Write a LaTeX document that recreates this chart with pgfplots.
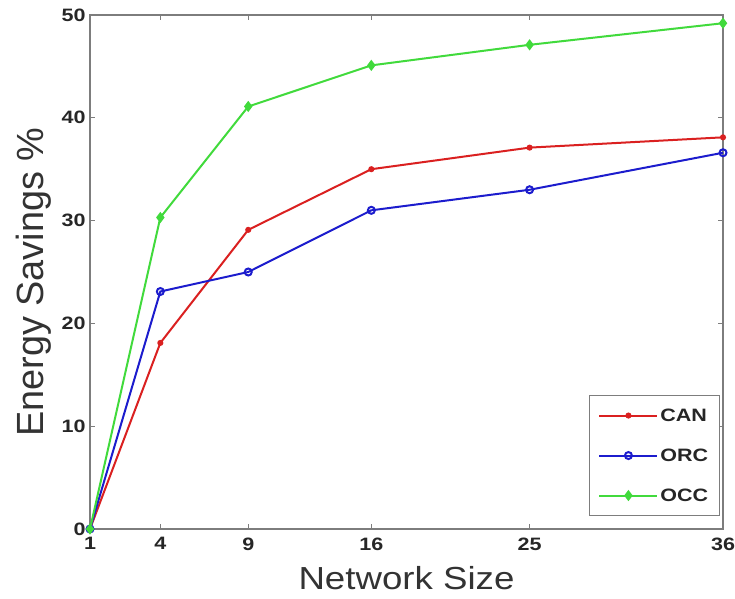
\documentclass[border=0pt]{standalone}
\usepackage{fontspec}
\setmainfont{Liberation Sans}
\newfontfamily\sfw[FakeStretch=1.15]{Liberation Sans}
\newfontfamily\sfwt[FakeStretch=1.2]{Liberation Sans}
\usepackage{pgfplots}
\pgfplotsset{compat=1.18}
\usetikzlibrary{calc}
\definecolor{mred}{RGB}{218,32,32}
\definecolor{mblue}{RGB}{28,28,205}
\definecolor{mgreen}{RGB}{65,218,60}
\definecolor{mgray}{RGB}{125,125,125}
\begin{document}
\begin{tikzpicture}
\useasboundingbox (-90bp,-70bp) rectangle (645bp,529bp);
\begin{axis}[
  at={(0,0)}, anchor=south west,
  scale only axis, width=633bp, height=514bp,
  xmin=0, xmax=36, ymin=0, ymax=50,
  xtick={0,4,9,16,25,36}, xticklabels={1,4,9,16,25,36},
  ytick={0,10,20,30,40,50},
  tick align=inside, major tick length=5bp,
  axis line style={mgray, line width=2bp},
  every tick/.style={mgray, line width=1bp},
  /pgf/number format/assume math mode=true,
  tick label style={font=\sfwt\bfseries\fontsize{18}{18}\selectfont, text=black!85},
  xticklabel style={yshift=-5bp},
  yticklabel style={xshift=-1bp},
  xlabel={Network Size}, ylabel={Energy Savings \%},
  xlabel style={font=\sfw\fontsize{32}{32}\selectfont, text=black!80,
    at={(axis description cs:0.5,0)}, anchor=base, yshift=-60bp},
  ylabel style={font=\fontsize{38}{38}\selectfont, text=black!80,
    at={($(axis description cs:0,0.48)+(-46bp,0)$)}, anchor=base},
  clip=false,
  legend style={at={(0.995,0.025)}, anchor=south east, draw=mgray, line width=1.2bp,
    font=\sfwt\bfseries\fontsize{18}{18}\selectfont, text=black!85, row sep=22bp,
    inner xsep=9bp, inner ysep=11bp},
  legend cell align=left,
  legend image code/.code={\draw[mark repeat=2,mark phase=2,#1] plot coordinates {(0bp,0bp)(29bp,0bp)(58bp,0bp)};},
]
\addplot[mred, line width=2bp, mark=*, mark size=2bp] coordinates {
  (0,0) (4,18.1) (9,29.1) (16,35.0) (25,37.1) (36,38.1)};
\addlegendentry{CAN}
\addplot[mblue, line width=2bp, mark=o, mark size=3.5bp] coordinates {
  (0,0) (4,23.1) (9,25.0) (16,31.0) (25,33.0) (36,36.6)};
\addlegendentry{ORC}
\addplot[mgreen, line width=2bp, mark=diamond*, mark size=4bp] coordinates {
  (0,0) (4,30.3) (9,41.1) (16,45.1) (25,47.1) (36,49.2)};
\addlegendentry{OCC}
\end{axis}
\end{tikzpicture}
\end{document}
